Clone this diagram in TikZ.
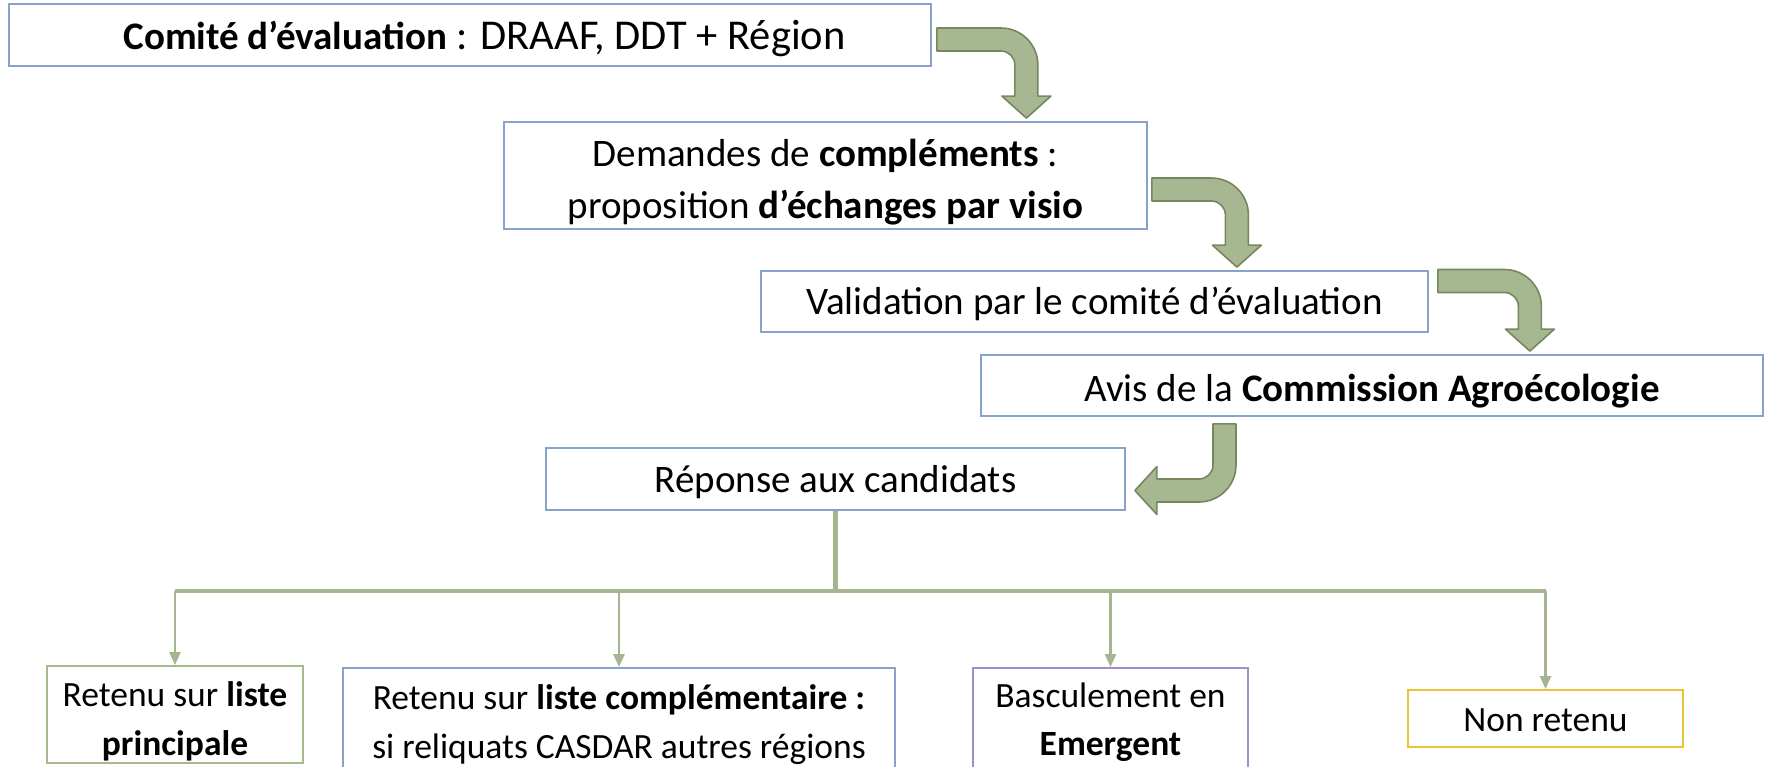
\documentclass[tikz,border=0pt]{standalone}
\usepackage{fontspec}
\setmainfont{Carlito}
\usetikzlibrary{calc,arrows.meta}

\definecolor{bendgreen}{HTML}{A7B792}
\definecolor{bendedge}{HTML}{76875E}
\definecolor{linkgreen}{HTML}{A5B592}
\definecolor{boxblue}{HTML}{87A3CC}
\definecolor{boxgreen}{HTML}{A7B98E}
\definecolor{boxpurple}{HTML}{A48CD2}
\definecolor{boxyellow}{HTML}{EDC233}

% one line of box text, sunk a little below its natural place
\newcommand{\sinkline}[2][5pt]{\raisebox{-#1}[\height][\depth]{#2}}

% bent block arrows: #1 tail, #2 tip
\newcommand{\rightdown}[2]{%
  \filldraw[bendarrow] let \p1=(#1), \p2=(#2) in
    (\x1,\y1+11.5pt) -- (\x2-25.5pt,\y1+11.5pt)
    arc[start angle=90,end angle=0,radius=37pt]
    -- (\x2+11.5pt,\y2+22pt) -- (\x2+24.5pt,\y2+22pt) -- (\x2,\y2)
    -- (\x2-24.5pt,\y2+22pt) -- (\x2-11.5pt,\y2+22pt)
    -- (\x2-11.5pt,\y1-25.5pt)
    arc[start angle=0,end angle=90,radius=14pt]
    -- (\x1,\y1-11.5pt) -- cycle;}
\newcommand{\downleft}[2]{%
  \filldraw[bendarrow] let \p1=(#1), \p2=(#2) in
    (\x1-11.5pt,\y1) -- (\x1+11.5pt,\y1) -- (\x1+11.5pt,\y2+25.5pt)
    arc[start angle=0,end angle=-90,radius=37pt]
    -- (\x2+22pt,\y2-11.5pt) -- (\x2+22pt,\y2-24pt) -- (\x2,\y2)
    -- (\x2+22pt,\y2+24pt) -- (\x2+22pt,\y2+11.5pt)
    -- (\x1-25.5pt,\y2+11.5pt)
    arc[start angle=-90,end angle=0,radius=14pt]
    -- cycle;}

\begin{document}
\begin{tikzpicture}[x=1pt,y=-1pt,
    box/.style={draw=boxblue,line width=1.8pt,inner sep=0pt,align=center,
      font=\fontsize{39}{52}\selectfont},
    smallbox/.style={box,font=\fontsize{35.5}{48.5}\selectfont},
    bendarrow/.style={fill=bendgreen,draw=bendedge,line width=1.6pt,line join=round},
    trunk/.style={draw=linkgreen,line width=4.5pt},
    branch/.style={draw=linkgreen,line width=2.5pt,-{Triangle[width=11pt,length=13pt]}}]
  \useasboundingbox (0,0) rectangle (1769,766);

  \node[box,minimum width=922pt,minimum height=62pt] (c1) at (470,35)
    {\hspace*{29pt}\sinkline[3.5pt]{\textbf{Comité d’évaluation}\fontsize{42.5}{52}\selectfont{} : DRAAF, DDT + Région}};
  \node[box,minimum width=643pt,minimum height=107pt] (c2) at (825.5,175.5)
    {\sinkline[7pt]{Demandes de \textbf{compléments} :}\\
     \sinkline[7pt]{proposition \textbf{d’échanges par visio}}};
  \node[box,minimum width=667pt,minimum height=61pt] (c3) at (1094.5,301.5)
    {\sinkline[2.5pt]{Validation par le comité d’évaluation}};
  \node[box,minimum width=782pt,minimum height=61pt] (c4) at (1372,385.5)
    {\sinkline[5.5pt]{Avis de la \textbf{Commission Agroécologie}}};
  \node[box,minimum width=579pt,minimum height=62pt] (c5) at (835.5,479)
    {\sinkline[3.5pt]{Réponse aux candidats}};

  \node[smallbox,draw=boxgreen,minimum width=256pt,minimum height=97pt] (r1) at (175,714.5)
    {\sinkline[7pt]{Retenu sur \textbf{liste}}\\\sinkline[7pt]{\textbf{principale}}};
  \node[smallbox,minimum width=552pt,minimum height=102pt] (r2) at (619,719)
    {\sinkline[5.5pt]{Retenu sur \textbf{liste complémentaire :}}\\
     \sinkline[5.5pt]{si reliquats CASDAR autres régions}};
  \node[smallbox,draw=boxpurple,minimum width=275pt,minimum height=102pt] (r3) at (1110.5,719)
    {\sinkline[3pt]{Basculement en}\\\sinkline[3pt]{\textbf{Emergent}}};
  \node[smallbox,draw=boxyellow,minimum width=275pt,minimum height=57pt] (r4) at (1545.5,718.5)
    {\sinkline[1.5pt]{Non retenu}};

  \rightdown{$(c1.east)+(5,4.5)$}{$(c2.north east)+(-121.5,-3)$}
  \rightdown{$(c2.east)+(4,14)$}{$(c3.north east)+(-192,-3)$}
  \rightdown{$(c3.east)+(9,-20.5)$}{$(c4.north east)+(-234,-3)$}
  \downleft{$(c4.south)+(-147.5,7)$}{$(c5.east)+(9,11.5)$}

  \path (c5.south) ++(0,80) coordinate (j);
  \draw[trunk] (c5.south) -- (j);
  \draw[trunk,line width=4pt] (r1.north |- j) -- (r4.north |- j);
  \foreach \n in {r1,r2,r3,r4}
    \draw[branch] (\n.north |- j) -- (\n.north);
\end{tikzpicture}
\end{document}
